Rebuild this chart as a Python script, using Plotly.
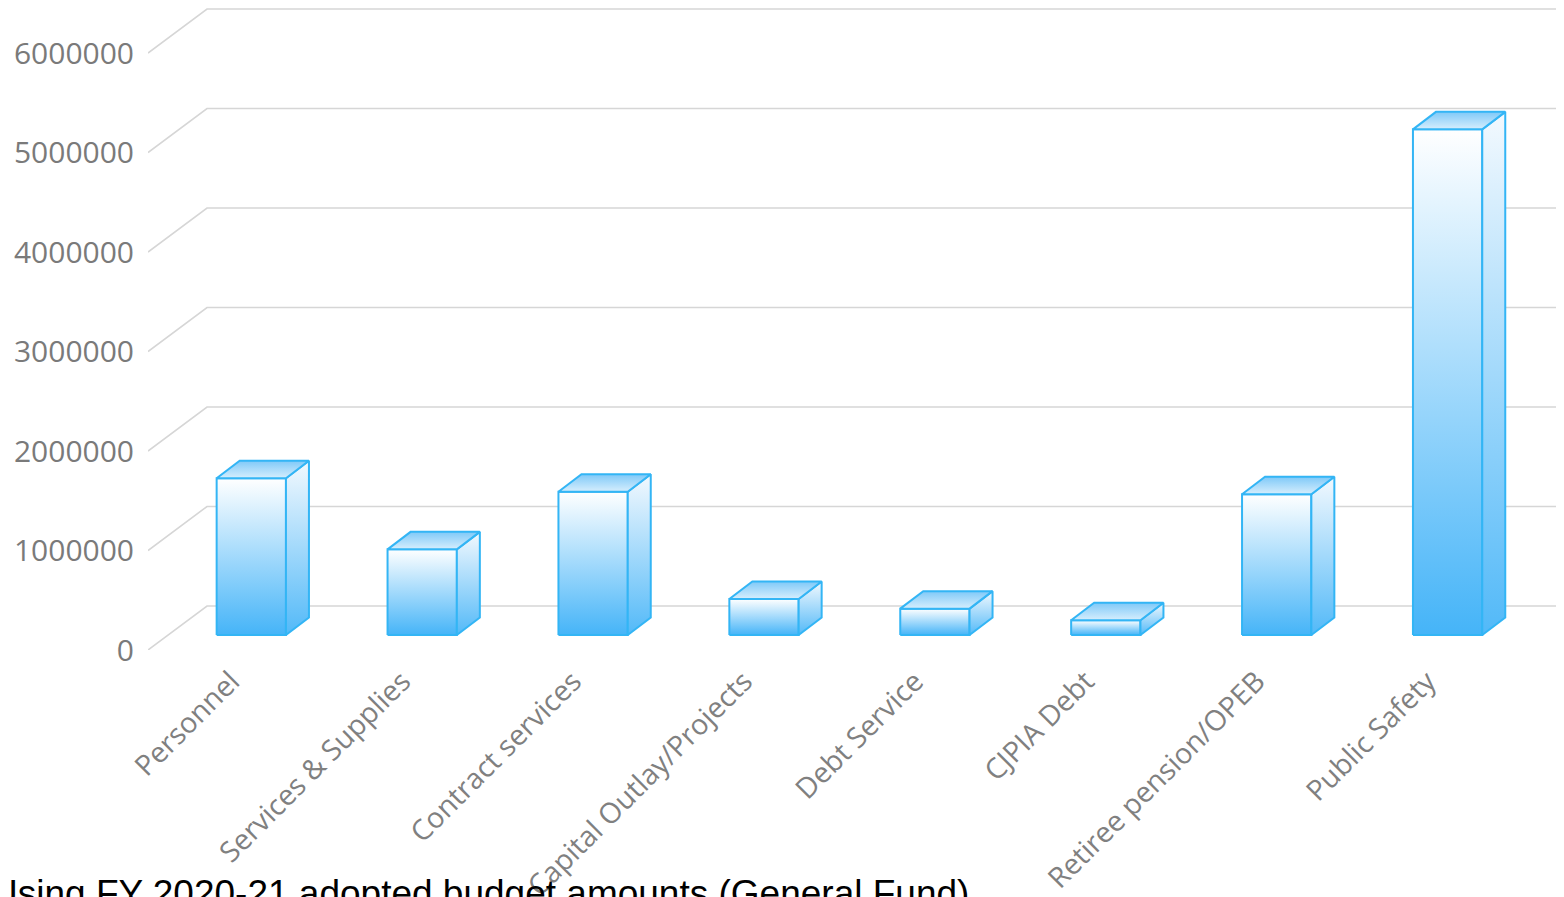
import plotly.graph_objects as go

categories = ["Personnel", "Services & Supplies", "Contract services",
              "Capital Outlay/Projects", "Debt Service", "CJPIA Debt",
              "Retiree pension/OPEB", "Public Safety"]
values = [1575000, 861000, 1440000, 362000, 265000, 148000, 1414000, 5082000]
y_ticks = [0, 1000000, 2000000, 3000000, 4000000, 5000000, 6000000]
y_tick_labels = [str(v) for v in y_ticks]
note = "Using FY 2020-21 adopted budget amounts (General Fund)"

# pixel -> data conversions (oblique projection)
PX_PER_CAT = 170.9
PX_PER_UNIT = 99.5 / 1e6


def dx(px):
    return px / PX_PER_CAT


def dy(px):
    return px / PX_PER_UNIT


# page body has an 8px margin; figure is sized to fit the window
PAGE_OFF = 8
FIG_W, FIG_H = 1564 - PAGE_OFF, 897 - PAGE_OFF
PLOT_L = 148 - PAGE_OFF
PLOT_BOTTOM = 650 - PAGE_OFF          # front-plane zero line (figure px)
PLOT_H = PLOT_BOTTOM
PLOT_W = FIG_W - PLOT_L

X_MIN = (148 - 231.3) / PX_PER_CAT
X_MAX = X_MIN + dx(PLOT_W)
Y_MAX = dy(PLOT_H)

WALL_DX, WALL_DY = dx(59), dy(44)
GRID = "#d6d6d6"
EDGE = "#33b5f5"

fig = go.Figure()

# grid: diagonal on the floor side + horizontal on the back wall
for v in y_ticks:
    fig.add_trace(go.Scatter(
        x=[X_MIN, X_MIN + WALL_DX, X_MAX], y=[v, v + WALL_DY, v + WALL_DY],
        mode="lines", line=dict(color=GRID, width=1.6),
        hoverinfo="skip", showlegend=False))

BAR_W = dx(69.3)
OFF_X, OFF_Y = dx(20), dy(15)
DEP_X, DEP_Y = dx(23), dy(17.5)

for i, v in enumerate(values):
    x0 = i + OFF_X - BAR_W / 2
    x1 = x0 + BAR_W
    yb = OFF_Y
    yt = v + OFF_Y
    faces = [
        ([x0, x1, x1, x0, x0], [yb, yb, yt, yt, yb],
         [[0, "#45b4f8"], [1, "#ffffff"]]),
        ([x1, x1 + DEP_X, x1 + DEP_X, x1, x1],
         [yb, yb + DEP_Y, yt + DEP_Y, yt, yb],
         [[0, "#52b9f8"], [1, "#f3f9fe"]]),
        ([x0, x1, x1 + DEP_X, x0 + DEP_X, x0],
         [yt, yt, yt + DEP_Y, yt + DEP_Y, yt],
         [[0, "#d6eefd"], [1, "#7fc9f8"]]),
    ]
    for fx, fy, cs in faces:
        fig.add_trace(go.Scatter(
            x=fx, y=fy, mode="lines", fill="toself",
            fillgradient=dict(type="vertical", colorscale=cs),
            line=dict(color=EDGE, width=2),
            hoverinfo="skip", showlegend=False))

fig.add_annotation(
    text=note, xref="paper", yref="paper",
    x=(-11 - 148) / 1416, y=(650 - 871) / PLOT_H,
    xanchor="left", yanchor="top", showarrow=False,
    font=dict(family="Liberation Sans, Arial", size=37, color="#000000"))

fig.update_layout(
    width=FIG_W, height=FIG_H, template="none",
    margin=dict(l=PLOT_L, r=0, t=0, b=FIG_H - PLOT_BOTTOM, pad=0),
    paper_bgcolor="white", plot_bgcolor="white",
    showlegend=False,
    xaxis=dict(range=[X_MIN, X_MAX], tickmode="array",
               tickvals=list(range(len(categories))), ticktext=categories,
               tickangle=-45, showgrid=False, zeroline=False, showline=False,
               ticks="", automargin=False, fixedrange=True,
               ticklabelstandoff=8,
               tickfont=dict(family="Open Sans", size=28.5, color="#808080")),
    yaxis=dict(range=[0, Y_MAX], tickmode="array", tickvals=y_ticks,
               ticktext=y_tick_labels, showgrid=False, zeroline=False,
               showline=False, ticks="", automargin=False, fixedrange=True,
               ticklabelstandoff=13,
               tickfont=dict(family="Open Sans", size=30, color="#7a7a7a")),
)

fig.write_html("out.html")
